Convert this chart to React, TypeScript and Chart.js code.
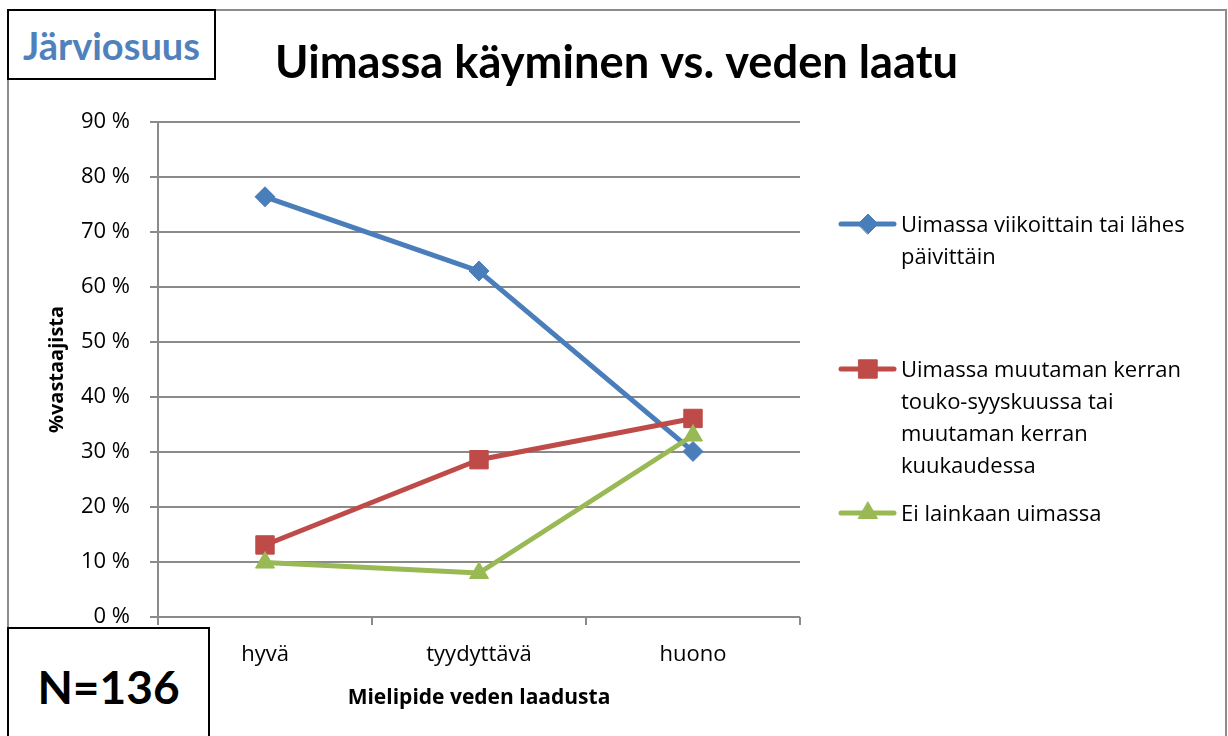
import React, { useEffect, useRef } from "react";
import { Chart, registerables } from "chart.js";
import { drawPoint } from "chart.js/helpers";

Chart.register(...registerables);

const categories = ["hyvä", "tyydyttävä", "huono"];
const weeklySwimmers = [76.4, 62.9, 30.1];
const occasionalSwimmers = [13.1, 28.6, 36.1];
const nonSwimmers = [9.9, 8.0, 33.0];
const yTickValues = [0, 10, 20, 30, 40, 50, 60, 70, 80, 90];
const seriesNames = [
  ["Uimassa viikoittain tai lähes", "päivittäin"],
  ["Uimassa muutaman kerran", "touko-syyskuussa tai", "muutaman kerran", "kuukaudessa"],
  ["Ei lainkaan uimassa"],
];
const chartTitle = "Uimassa käyminen vs. veden laatu";
const xAxisTitle = "Mielipide veden laadusta";
const yAxisTitle = "%vastaajista";
const locationLabel = "Järviosuus";
const sampleLabel = "N=136";

const FONT = "'Open Sans', Lato, 'Noto Sans', sans-serif";
const BOLD_FONT = "Lato, 'Open Sans', 'Noto Sans', sans-serif";

export default function App() {
  const canvasRef = useRef<HTMLCanvasElement | null>(null);

  useEffect(() => {
    document.body.style.margin = "0";
    const canvas = canvasRef.current;
    if (!canvas) return;
    const gridColor = "#8a8a8a";
    const colors = ["#4a7ebb", "#be4b48", "#98b954"];

    const titlePlugin = {
      id: "mainTitle",
      afterDraw(chart: any) {
        const ctx = chart.ctx;
        ctx.save();
        ctx.font = `bold 46px ${BOLD_FONT}`;
        ctx.fillStyle = "#000";
        ctx.textBaseline = "alphabetic";
        ctx.textAlign = "center";
        const w = ctx.measureText(chartTitle).width;
        const target = 683;
        const sx = w > target ? target / w : 1;
        ctx.translate(616.5, 78);
        ctx.scale(sx, 1);
        ctx.fillText(chartTitle, 0, 0);
        ctx.restore();
      },
    };

    const legendPlugin = {
      id: "sideLegend",
      afterDraw(chart: any) {
        const ctx = chart.ctx;
        const entryY = [224, 369, 513];
        const lineGap = 32;
        chart.data.datasets.forEach((ds: any, i: number) => {
          const y = entryY[i];
          ctx.save();
          ctx.strokeStyle = ds.borderColor;
          ctx.lineWidth = 5;
          ctx.lineCap = "round";
          ctx.beginPath();
          ctx.moveTo(841, y);
          ctx.lineTo(894, y);
          ctx.stroke();
          ctx.fillStyle = ds.pointBackgroundColor;
          ctx.strokeStyle = ds.pointBorderColor;
          ctx.lineWidth = 1;
          drawPoint(
            ctx,
            { pointStyle: ds.pointStyle, rotation: 0, radius: ds.pointRadius, borderWidth: 1 } as any,
            868,
            y
          );
          ctx.fillStyle = "#000";
          ctx.font = `22px ${FONT}`;
          ctx.textBaseline = "middle";
          ctx.textAlign = "left";
          seriesNames[i].forEach((line, j) => {
            ctx.fillText(line, 901, y + 2 + j * lineGap);
          });
          ctx.restore();
        });
      },
    };

    const makeDataset = (label: string, data: number[], color: string, style: string, radius: number, order: number) => ({
      label,
      data,
      borderColor: color,
      backgroundColor: color,
      pointBackgroundColor: color,
      pointBorderColor: color,
      pointStyle: style,
      pointRadius: radius,
      pointBorderWidth: 1,
      borderWidth: 5,
      borderCapStyle: "round",
      borderJoinStyle: "round",
      tension: 0,
      order,
    });

    const chart = new Chart(canvas, {
      type: "line",
      data: {
        labels: categories,
        datasets: [
          makeDataset(seriesNames[0].join(" "), weeklySwimmers, colors[0], "rectRot", 10, 3),
          makeDataset(seriesNames[1].join(" "), occasionalSwimmers, colors[1], "rect", 13, 2),
          makeDataset(seriesNames[2].join(" "), nonSwimmers, colors[2], "triangle", 11, 1),
        ] as any,
      },
      options: {
        animation: false,
        responsive: false,
        maintainAspectRatio: false,
        events: [],
        layout: { padding: { left: 0, top: 122, right: 428, bottom: 0 } },
        plugins: {
          legend: { display: false },
          title: { display: false },
          tooltip: { enabled: false },
        },
        scales: {
          x: {
            type: "category",
            offset: true,
            grid: {
              offset: true,
              drawOnChartArea: false,
              drawTicks: true,
              tickLength: 8,
              color: gridColor,
              lineWidth: 2,
            },
            border: { display: false },
            ticks: {
              color: "#000",
              font: { family: FONT, size: 22 },
              padding: 17,
              maxRotation: 0,
            },
            title: {
              display: true,
              text: xAxisTitle,
              color: "#000",
              font: { family: FONT, size: 21, weight: "bold" },
              padding: { top: 0, bottom: 25 },
            },
            afterFit(scale: any) {
              scale.height = 119;
            },
          },
          y: {
            min: 0,
            max: 90,
            grid: {
              color: gridColor,
              lineWidth: 2,
              tickLength: 8,
              drawTicks: true,
            },
            border: { display: true, color: gridColor, width: 2 },
            ticks: {
              color: "#000",
              font: { family: FONT, size: 22 },
              padding: 20,
              callback: (v: any) => `${v} %`,
            },
            afterBuildTicks(scale: any) {
              scale.ticks = yTickValues.map((v) => ({ value: v }));
            },
            title: {
              display: true,
              text: yAxisTitle,
              color: "#000",
              font: { family: FONT, size: 20, weight: "bold" },
              padding: { top: 45, bottom: 0 },
            },
            afterFit(scale: any) {
              scale.width = 158;
            },
          },
        },
      } as any,
      plugins: [titlePlugin, legendPlugin],
    });

    return () => {
      chart.destroy();
    };
  }, []);

  return (
    <div
      style={{
        position: "relative",
        width: 1228,
        height: 736,
        overflow: "hidden",
        background: "#fff",
        fontFamily: BOLD_FONT,
      }}
    >
      <div
        style={{
          position: "absolute",
          left: 7,
          top: 9,
          width: 1216,
          height: 760,
          border: "2px solid #8c8c8c",
        }}
      />
      <canvas
        ref={canvasRef}
        width={1228}
        height={736}
        style={{ position: "absolute", left: 0, top: 0, width: 1228, height: 736 }}
      />
      <div
        style={{
          position: "absolute",
          left: 7,
          top: 9,
          width: 205,
          height: 67,
          border: "2px solid #000",
          background: "#fff",
          color: "#4f81bd",
          fontWeight: "bold",
          fontSize: 38,
          display: "flex",
          alignItems: "center",
          justifyContent: "center",
          lineHeight: 1,
        }}
      >
        {locationLabel}
      </div>
      <div
        style={{
          position: "absolute",
          left: 7,
          top: 627,
          width: 199,
          height: 140,
          border: "2px solid #000",
          background: "#fff",
          color: "#000",
          fontWeight: "bold",
          fontSize: 46,
          lineHeight: 1,
        }}
      >
        <div style={{ position: "absolute", left: 0, width: 199, top: 35, textAlign: "center" }}>{sampleLabel}</div>
      </div>
    </div>
  );
}
